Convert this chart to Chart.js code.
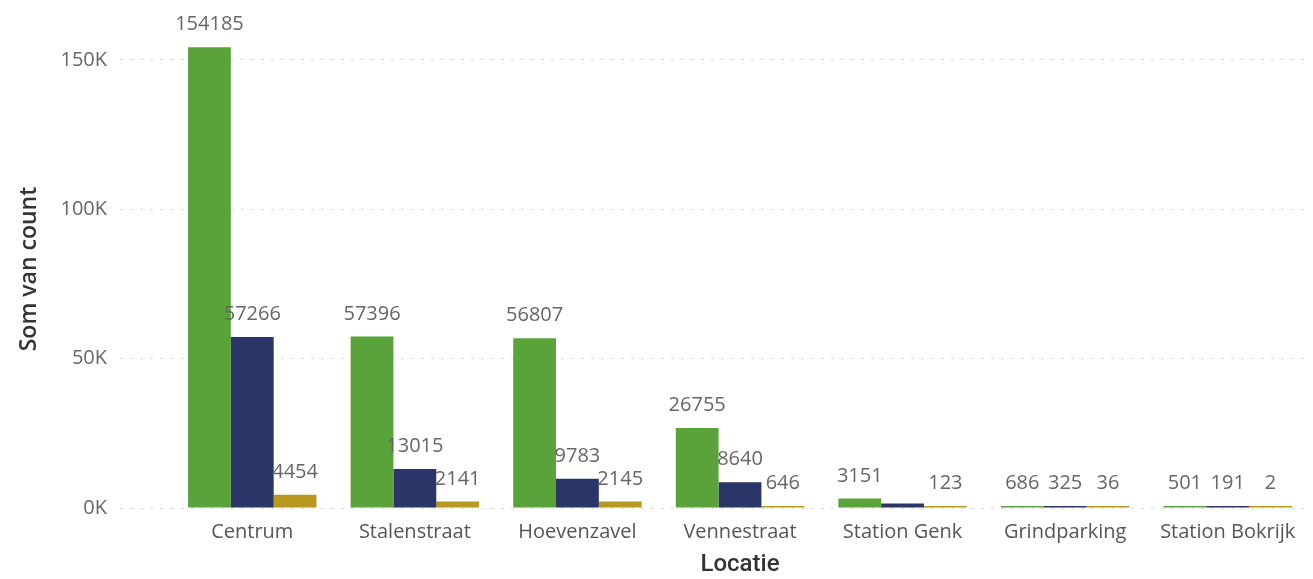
<!DOCTYPE html>
<html>
<head>
<meta charset="utf-8">
<script src="https://cdn.jsdelivr.net/npm/chart.js@4"></script>
<style>
  html, body { margin: 0; padding: 0; background: #fff; }
  #wrap { width: 1313px; height: 579px; position: relative; }
</style>
</head>
<body>
<div id="wrap"><canvas id="locatie-chart"></canvas></div>
<script>
// Locations (x axis)
const locaties = ["Centrum", "Stalenstraat", "Hoevenzavel", "Vennestraat", "Station Genk", "Grindparking", "Station Bokrijk"];

// Three series per location
const serieGroen = [154185, 57396, 56807, 26755, 3151, 686, 501];
const serieBlauw = [57266, 13015, 9783, 8640, 1500, 325, 191];
const serieGoud = [4454, 2141, 2145, 646, 123, 36, 2];

// Y axis ticks
const yTicks = [0, 50000, 100000, 150000];

const labelFont = "20px 'Open Sans', sans-serif";

// Draw value labels above bars, skip the ones that would collide
const valueLabels = {
    id: "valueLabels",
    afterDatasetsDraw(chart) {
        const ctx = chart.ctx;
        ctx.save();
        ctx.font = labelFont;
        ctx.fillStyle = "#666";
        ctx.textAlign = "center";
        ctx.textBaseline = "alphabetic";
        const boxes = [];
        chart.data.labels.forEach((_, i) => {
            chart.data.datasets.forEach((ds, d) => {
                const bar = chart.getDatasetMeta(d).data[i];
                const text = String(ds.data[i]);
                const w = ctx.measureText(text).width;
                const y = bar.y - 17;
                const box = { x1: bar.x - w / 2, x2: bar.x + w / 2, y1: y - 16, y2: y + 2 };
                const hit = boxes.some(b => box.x1 < b.x2 + 2 && box.x2 > b.x1 - 2 && box.y1 < b.y2 && box.y2 > b.y1);
                if (hit) return;
                boxes.push(box);
                ctx.fillText(text, bar.x, y);
            });
        });
        ctx.restore();
    }
};

new Chart(document.getElementById("locatie-chart"), {
    type: "bar",
    data: {
        labels: locaties,
        datasets: [
            { label: "Groen", data: serieGroen, backgroundColor: "#5aa23a" },
            { label: "Blauw", data: serieBlauw, backgroundColor: "#2b3567" },
            { label: "Goud", data: serieGoud, backgroundColor: "#b8981e" }
        ]
    },
    options: {
        responsive: true,
        maintainAspectRatio: false,
        animation: false,
        layout: { padding: { top: 30, right: 4, left: 0, bottom: 0 } },
        datasets: {
            bar: { categoryPercentage: 0.79, barPercentage: 1.0, minBarLength: 2 }
        },
        plugins: {
            legend: { display: false },
            tooltip: { enabled: false }
        },
        scales: {
            x: {
                grid: { display: false },
                border: { display: false },
                ticks: {
                    color: "#555",
                    font: { family: "'Open Sans', sans-serif", size: 20 },
                    padding: 4,
                    maxRotation: 0
                },
                title: {
                    display: true,
                    text: "Locatie",
                    color: "#333",
                    font: { family: "Roboto, sans-serif", size: 24, weight: "500" },
                    padding: { top: 0, bottom: 0 }
                },
                afterFit(axis) { axis.height = 71; }
            },
            y: {
                min: 0,
                max: 160000,
                border: { display: false, dash: [3, 7] },
                grid: {
                    color: "#dcdcdc",
                    tickColor: "#dcdcdc",
                    tickBorderDash: [3, 7],
                    tickLength: 51,
                    lineWidth: 1
                },
                ticks: {
                    color: "#666",
                    font: { family: "'Open Sans', sans-serif", size: 20 },
                    padding: 13,
                    callback: v => (v / 1000) + "K"
                },
                afterBuildTicks(axis) {
                    axis.ticks = yTicks.map(v => ({ value: v }));
                },
                title: {
                    display: true,
                    text: "Som van count",
                    color: "#333",
                    font: { family: "'Open Sans', sans-serif", size: 23, weight: "600" },
                    padding: { top: 16, bottom: 0 }
                },
                afterFit(axis) { axis.width = 171; }
            }
        }
    },
    plugins: [valueLabels]
});
</script>
</body>
</html>
